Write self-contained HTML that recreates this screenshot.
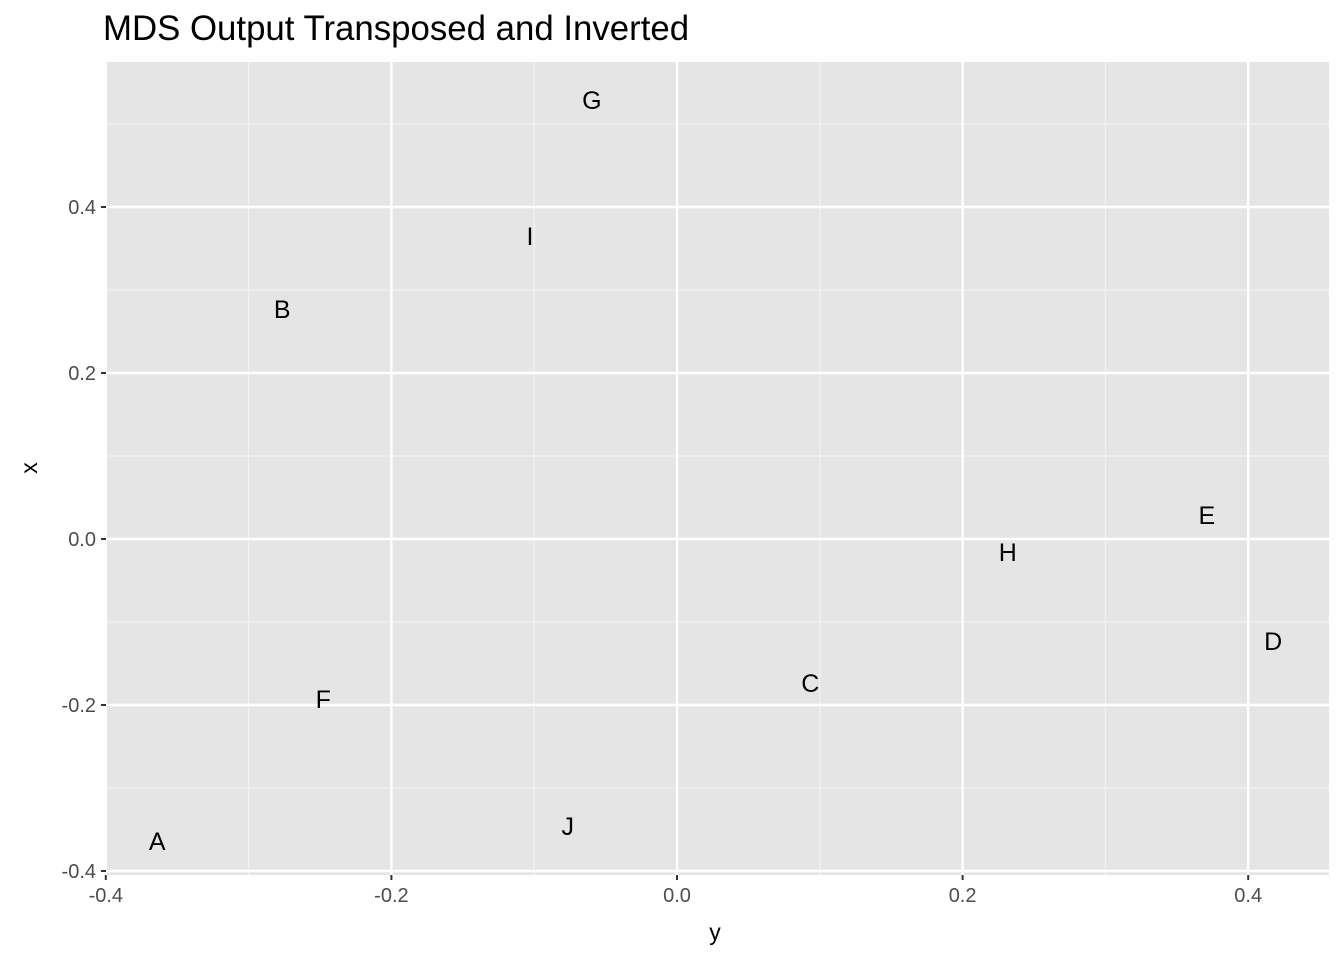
<!DOCTYPE html>
<html><head><meta charset="utf-8"><style>body{margin:0;background:#fff}svg{display:block;font-family:"Liberation Sans",Arial,sans-serif}</style></head>
<body>
<svg id="chart" width="1344" height="960">
<text x="103" y="40" font-size="34.8" fill="#000">MDS Output Transposed and Inverted</text>
<rect x="106" y="62" width="1223" height="813" fill="#e5e5e5"/>
<g id="grid"></g><g id="ticks"></g><g id="pts"></g>
<text x="715" y="940" font-size="23" text-anchor="middle" fill="#000">y</text>
<text transform="translate(37,468) rotate(-90)" font-size="23" text-anchor="middle" fill="#000">x</text>
</svg>
<script>
const labels=["A","B","C","D","E","F","G","H","I","J"];
const yVals=[-0.364,-0.2765,0.0933,0.4175,0.371,-0.2477,-0.0596,0.2316,-0.103,-0.0765];
const xVals=[-0.364,0.277,-0.1735,-0.123,0.029,-0.193,0.529,-0.0157,0.365,-0.346];
const xTicks=[-0.4,-0.2,0.0,0.2,0.4];
const xTickLabels=["-0.4","-0.2","0.0","0.2","0.4"];
const yTicks=[-0.4,-0.2,0.0,0.2,0.4];
const yTickLabels=["-0.4","-0.2","0.0","0.2","0.4"];
const xMinor=[-0.3,-0.1,0.1,0.3];
const yMinor=[-0.3,-0.1,0.1,0.3,0.5];
const L=106,R=1329,T=62,B=875;
const sx=v=>677+v*1428, sy=v=>539-v*830;
const NS="http://www.w3.org/2000/svg";
function mk(p,tag,a){const e=document.createElementNS(NS,tag);for(const k in a)e.setAttribute(k,a[k]);p.appendChild(e);return e;}
const g=document.getElementById('grid'),tk=document.getElementById('ticks'),pg=document.getElementById('pts');
xMinor.forEach(v=>{const e=mk(g,'line',{x1:sx(v),x2:sx(v),y1:T,y2:B,stroke:'#f2f2f2','stroke-width':1.2});

});
yMinor.forEach(v=>{const e=mk(g,'line',{x1:L,x2:R,y1:sy(v),y2:sy(v),stroke:'#f2f2f2','stroke-width':1.2});

});
xTicks.forEach((v,i)=>{const e=mk(g,'line',{x1:sx(v),x2:sx(v),y1:T,y2:B,stroke:'#fff','stroke-width':2.4});


const t=mk(tk,'line',{x1:sx(v),x2:sx(v),y1:B,y2:B+5,stroke:'#333','stroke-width':2});


const l=mk(tk,'text',{x:sx(v),y:B+27,'font-size':20,'text-anchor':'middle',fill:'#4d4d4d'});l.textContent=xTickLabels[i];

});
yTicks.forEach((v,i)=>{const e=mk(g,'line',{x1:L,x2:R,y1:sy(v),y2:sy(v),stroke:'#fff','stroke-width':2.4});


const t=mk(tk,'line',{x1:L-5,x2:L,y1:sy(v),y2:sy(v),stroke:'#333','stroke-width':2});


const l=mk(tk,'text',{x:L-10,y:sy(v)+7,'font-size':20,'text-anchor':'end',fill:'#4d4d4d'});l.textContent=yTickLabels[i];

});
labels.forEach((s,i)=>{const t=mk(pg,'text',{x:sx(yVals[i]),y:sy(xVals[i])+9,'font-size':25,'text-anchor':'middle',fill:'#000'});t.textContent=s;

});
</script>
</body></html>
